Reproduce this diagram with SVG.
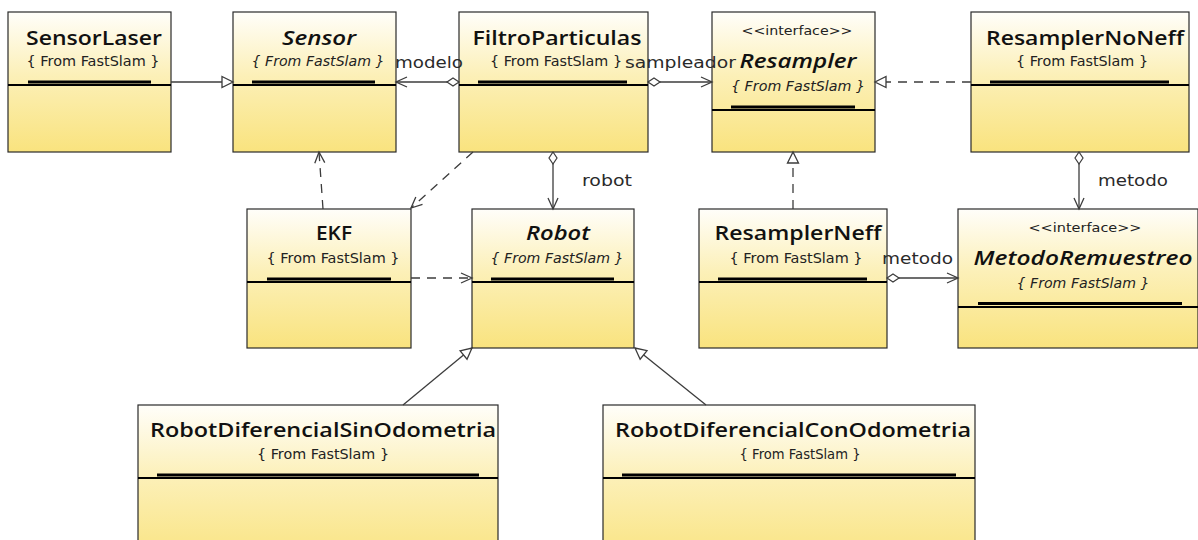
<svg xmlns="http://www.w3.org/2000/svg" width="1198" height="540" viewBox="0 0 1198 540">
  <defs>
    <linearGradient id="classFill" x1="0" y1="0" x2="0" y2="1">
      <stop offset="0" stop-color="#fffefa"/>
      <stop offset="0.45" stop-color="#fcf0b8"/>
      <stop offset="1" stop-color="#f9e37e"/>
    </linearGradient>
    <marker id="openArrow" markerUnits="userSpaceOnUse" markerWidth="16" markerHeight="16" viewBox="-12 -8 14 16" refX="0" refY="0" orient="auto">
      <path d="M -11 -5 L 0 0 L -11 5" fill="none" stroke="#3c3c3c" stroke-width="1.3"/>
    </marker>
    <marker id="hollowTri" markerUnits="userSpaceOnUse" markerWidth="16" markerHeight="16" viewBox="-13 -8 15 16" refX="0" refY="0" orient="auto">
      <path d="M -11 -5.5 L 0 0 L -11 5.5 Z" fill="#ffffff" stroke="#3c3c3c" stroke-width="1.3"/>
    </marker>
    <marker id="diamond" markerUnits="userSpaceOnUse" markerWidth="16" markerHeight="16" viewBox="-2 -8 16 16" refX="0" refY="0" orient="auto">
      <path d="M 0 0 L 6 -4 L 12 0 L 6 4 Z" fill="#ffffff" stroke="#3c3c3c" stroke-width="1.2"/>
    </marker>
  </defs>
  <style>
    .box { fill: url(#classFill); stroke: #2a2a2a; stroke-width: 1.2; }
    .sep { stroke: #000; stroke-width: 2; }
    .bar { fill: #000; }
    .title { font-family: "Open Sans", "DejaVu Sans", sans-serif; font-size: 20px; font-weight: 600; fill: #111; text-anchor: middle; }
    .abstract { font-style: italic; }
    .sub { font-family: "DejaVu Sans", "Liberation Sans", sans-serif; font-size: 13.5px; fill: #222; text-anchor: middle; }
    .stereo { font-family: "DejaVu Sans", "Liberation Sans", sans-serif; font-size: 13px; fill: #222; text-anchor: middle; }
    .role { font-family: "DejaVu Sans", "Liberation Sans", sans-serif; font-size: 16.5px; fill: #2a2a2a; }
    .edge { fill: none; stroke: #3c3c3c; stroke-width: 1.3; }
    .dashed { stroke-dasharray: 9 7; }
  </style>

  <g id="SensorLaser">
    <rect class="box" x="8" y="12" width="163" height="140"/>
    <text class="title" x="94" y="45" textLength="136" lengthAdjust="spacingAndGlyphs">SensorLaser</text>
    <text class="sub" x="93" y="66" textLength="133" lengthAdjust="spacingAndGlyphs">{ From FastSlam }</text>
    <rect class="bar" x="28" y="80.5" width="123" height="3"/>
    <line class="sep" x1="8" y1="85" x2="171" y2="85"/>
  </g>

  <g id="Sensor">
    <rect class="box" x="233" y="12" width="163" height="140"/>
    <text class="title abstract" x="319" y="45" textLength="74" lengthAdjust="spacingAndGlyphs">Sensor</text>
    <text class="sub abstract" x="318" y="66" textLength="133" lengthAdjust="spacingAndGlyphs">{ From FastSlam }</text>
    <rect class="bar" x="252" y="80.5" width="123" height="3"/>
    <line class="sep" x1="233" y1="85" x2="396" y2="85"/>
  </g>

  <g id="FiltroParticulas">
    <rect class="box" x="459" y="12" width="189" height="140"/>
    <text class="title" x="557" y="45" textLength="169" lengthAdjust="spacingAndGlyphs">FiltroParticulas</text>
    <text class="sub" x="556" y="66" textLength="132" lengthAdjust="spacingAndGlyphs">{ From FastSlam }</text>
    <rect class="bar" x="478" y="80.5" width="149" height="3"/>
    <line class="sep" x1="459" y1="85" x2="648" y2="85"/>
  </g>

  <g id="Resampler">
    <rect class="box" x="712" y="12" width="163" height="140"/>
    <text class="stereo" x="797" y="35" textLength="111" lengthAdjust="spacingAndGlyphs">&lt;&lt;interface&gt;&gt;</text>
    <text class="title abstract" x="798" y="68" textLength="117" lengthAdjust="spacingAndGlyphs">Resampler</text>
    <text class="sub abstract" x="798" y="91" textLength="134" lengthAdjust="spacingAndGlyphs">{ From FastSlam }</text>
    <rect class="bar" x="731" y="105.5" width="124" height="3"/>
    <line class="sep" x1="712" y1="110" x2="875" y2="110"/>
  </g>

  <g id="ResamplerNoNeff">
    <rect class="box" x="971" y="12" width="218" height="140"/>
    <text class="title" x="1085" y="45" textLength="198" lengthAdjust="spacingAndGlyphs">ResamplerNoNeff</text>
    <text class="sub" x="1082" y="66" textLength="132" lengthAdjust="spacingAndGlyphs">{ From FastSlam }</text>
    <rect class="bar" x="990" y="80.5" width="179" height="3"/>
    <line class="sep" x1="971" y1="85" x2="1189" y2="85"/>
  </g>

  <g id="EKF">
    <rect class="box" x="247" y="209" width="164" height="139"/>
    <text class="title" x="334" y="240" textLength="36" lengthAdjust="spacingAndGlyphs">EKF</text>
    <text class="sub" x="333" y="263" textLength="133" lengthAdjust="spacingAndGlyphs">{ From FastSlam }</text>
    <rect class="bar" x="267" y="277.5" width="124" height="3"/>
    <line class="sep" x1="247" y1="282" x2="411" y2="282"/>
  </g>

  <g id="Robot">
    <rect class="box" x="472" y="209" width="162" height="139"/>
    <text class="title abstract" x="558" y="240" textLength="64" lengthAdjust="spacingAndGlyphs">Robot</text>
    <text class="sub abstract" x="557" y="263" textLength="133" lengthAdjust="spacingAndGlyphs">{ From FastSlam }</text>
    <rect class="bar" x="491" y="277.5" width="123" height="3"/>
    <line class="sep" x1="472" y1="282" x2="634" y2="282"/>
  </g>

  <g id="ResamplerNeff">
    <rect class="box" x="699" y="209" width="188" height="139"/>
    <text class="title" x="798" y="240" textLength="167" lengthAdjust="spacingAndGlyphs">ResamplerNeff</text>
    <text class="sub" x="796" y="263" textLength="133" lengthAdjust="spacingAndGlyphs">{ From FastSlam }</text>
    <rect class="bar" x="718" y="277.5" width="149" height="3"/>
    <line class="sep" x1="699" y1="282" x2="887" y2="282"/>
  </g>

  <g id="MetodoRemuestreo">
    <rect class="box" x="958" y="209" width="240" height="139"/>
    <text class="stereo" x="1085" y="232" textLength="113" lengthAdjust="spacingAndGlyphs">&lt;&lt;interface&gt;&gt;</text>
    <text class="title abstract" x="1083" y="265" textLength="219" lengthAdjust="spacingAndGlyphs">MetodoRemuestreo</text>
    <text class="sub abstract" x="1083" y="288" textLength="133" lengthAdjust="spacingAndGlyphs">{ From FastSlam }</text>
    <rect class="bar" x="978" y="302" width="204" height="3"/>
    <line class="sep" x1="958" y1="307" x2="1198" y2="307"/>
  </g>

  <g id="RobotDiferencialSinOdometria">
    <rect class="box" x="138" y="405" width="360" height="160"/>
    <text class="title" x="323" y="437" textLength="346" lengthAdjust="spacingAndGlyphs">RobotDiferencialSinOdometria</text>
    <text class="sub" x="323" y="459" textLength="132" lengthAdjust="spacingAndGlyphs">{ From FastSlam }</text>
    <rect class="bar" x="157" y="473.5" width="322" height="3"/>
    <line class="sep" x1="138" y1="478" x2="498" y2="478"/>
  </g>

  <g id="RobotDiferencialConOdometria">
    <rect class="box" x="603" y="405" width="372" height="160"/>
    <text class="title" x="793" y="437" textLength="356" lengthAdjust="spacingAndGlyphs">RobotDiferencialConOdometria</text>
    <text class="sub" x="800" y="459" textLength="121" lengthAdjust="spacingAndGlyphs">{ From FastSlam }</text>
    <rect class="bar" x="622" y="473.5" width="334" height="3"/>
    <line class="sep" x1="603" y1="478" x2="975" y2="478"/>
  </g>

  <!-- connectors, drawn above the class boxes so role names stay readable -->
  <g id="connectors">
    <!-- SensorLaser extends Sensor -->
    <line class="edge" x1="171" y1="82" x2="233" y2="82" marker-end="url(#hollowTri)"/>
    <!-- FiltroParticulas -> Sensor (modelo) -->
    <line class="edge" x1="459" y1="82" x2="396" y2="82" marker-start="url(#diamond)" marker-end="url(#openArrow)"/>
    <text class="role" x="395" y="68" textLength="68" lengthAdjust="spacingAndGlyphs">modelo</text>
    <!-- FiltroParticulas -> Resampler (sampleador) -->
    <line class="edge" x1="648" y1="82" x2="712" y2="82" marker-start="url(#diamond)" marker-end="url(#openArrow)"/>
    <text class="role" x="625" y="68" textLength="111" lengthAdjust="spacingAndGlyphs">sampleador</text>
    <!-- ResamplerNoNeff realizes Resampler -->
    <line class="edge dashed" x1="971" y1="82" x2="875" y2="82" marker-end="url(#hollowTri)"/>
    <!-- ResamplerNoNeff -> MetodoRemuestreo (metodo) -->
    <line class="edge" x1="1079" y1="152" x2="1079" y2="209" marker-start="url(#diamond)" marker-end="url(#openArrow)"/>
    <text class="role" x="1098" y="186" textLength="70" lengthAdjust="spacingAndGlyphs">metodo</text>
    <!-- FiltroParticulas -> Robot (robot) -->
    <line class="edge" x1="553" y1="152" x2="553" y2="209" marker-start="url(#diamond)" marker-end="url(#openArrow)"/>
    <text class="role" x="582" y="186" textLength="50" lengthAdjust="spacingAndGlyphs">robot</text>
    <!-- FiltroParticulas uses EKF -->
    <line class="edge dashed" x1="473" y1="152" x2="411" y2="208" marker-end="url(#openArrow)"/>
    <!-- EKF uses Sensor -->
    <line class="edge dashed" x1="323" y1="209" x2="319" y2="152" marker-end="url(#openArrow)"/>
    <!-- EKF uses Robot -->
    <line class="edge dashed" x1="411" y1="278" x2="472" y2="278" marker-end="url(#openArrow)"/>
    <!-- ResamplerNeff realizes Resampler -->
    <line class="edge dashed" x1="793" y1="209" x2="793" y2="152" marker-end="url(#hollowTri)"/>
    <!-- ResamplerNeff -> MetodoRemuestreo (metodo) -->
    <line class="edge" x1="887" y1="278" x2="958" y2="278" marker-start="url(#diamond)" marker-end="url(#openArrow)"/>
    <text class="role" x="882" y="264" textLength="71" lengthAdjust="spacingAndGlyphs">metodo</text>
    <!-- Robot subclasses -->
    <line class="edge" x1="403" y1="405" x2="472" y2="348" marker-end="url(#hollowTri)"/>
    <line class="edge" x1="706" y1="405" x2="635" y2="348" marker-end="url(#hollowTri)"/>
  </g>
</svg>
